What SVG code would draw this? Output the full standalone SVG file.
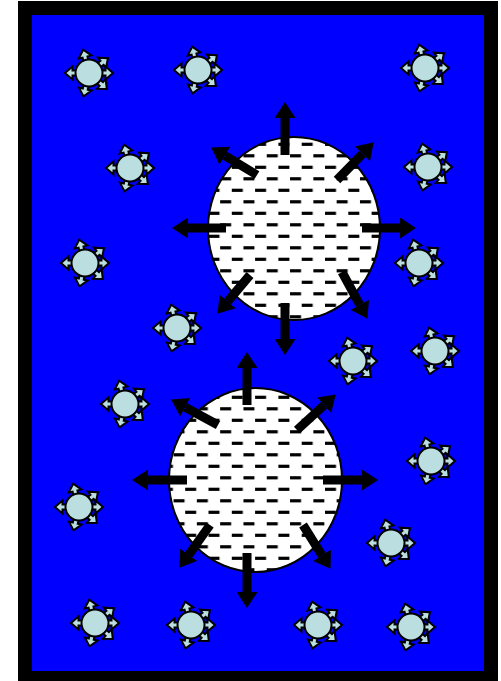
<svg xmlns="http://www.w3.org/2000/svg" xmlns:xlink="http://www.w3.org/1999/xlink" width="501" height="681" viewBox="0 0 501 681">
<style>
.bigarrow{stroke:#000;stroke-width:9;fill:none;marker-end:url(#head)}
.sa{fill:#bbdfe1;stroke:#000;stroke-width:2;stroke-linejoin:miter}
.suncore{fill:#bbdfe1;stroke:#000;stroke-width:2}
.drop{fill:url(#dashes);stroke:#000;stroke-width:2}
</style>
<defs>
<marker id="head" viewBox="0 0 16 21" refX="0" refY="10.5" markerWidth="16" markerHeight="21" markerUnits="userSpaceOnUse" orient="auto">
<path d="M0,0 L16,10.5 L0,21 z" fill="#000"/>
</marker>
<pattern id="dashes" patternUnits="userSpaceOnUse" x="-1.2" y="0" width="23.3" height="23">
<rect x="0" y="4.7" width="11" height="3.2" fill="#000"/>
<rect x="11.65" y="16.2" width="11" height="3.2" fill="#000"/>
</pattern>
<polygon id="sarrow" class="sa" points="6,-2.5 16.5,-2.5 16.5,-6.5 24,0 16.5,6.5 16.5,2.5 6,2.5"/>
<g id="sun">
<use xlink:href="#sarrow" href="#sarrow" transform="rotate(180)"/>
<use xlink:href="#sarrow" href="#sarrow" transform="rotate(-104)"/>
<use xlink:href="#sarrow" href="#sarrow" transform="rotate(-38)"/>
<use xlink:href="#sarrow" href="#sarrow"/>
<use xlink:href="#sarrow" href="#sarrow" transform="rotate(42)"/>
<use xlink:href="#sarrow" href="#sarrow" transform="rotate(103)"/>
<circle class="suncore" cx="0" cy="0" r="13.5"/>
</g>
</defs>
<rect id="frame" x="25" y="8" width="466" height="670" fill="#0000ff" stroke="#000" stroke-width="14"/>
<g id="drop1">
<ellipse cx="294" cy="228.5" rx="86" ry="91.5" fill="#fff"/>
<ellipse class="drop" cx="294" cy="228.5" rx="86" ry="91.5"/>
</g>
<g id="drop2">
<ellipse cx="255.5" cy="480" rx="86.5" ry="92" fill="#fff"/>
<ellipse class="drop" cx="255.5" cy="480" rx="86.5" ry="92"/>
</g>
<g id="suns">
<use id="sun1" xlink:href="#sun" href="#sun" transform="translate(89,73)"/>
<use id="sun2" xlink:href="#sun" href="#sun" transform="translate(198,70)"/>
<use id="sun3" xlink:href="#sun" href="#sun" transform="translate(425,68)"/>
<use id="sun4" xlink:href="#sun" href="#sun" transform="translate(130,168)"/>
<use id="sun5" xlink:href="#sun" href="#sun" transform="translate(428,167)"/>
<use id="sun6" xlink:href="#sun" href="#sun" transform="translate(85,263)"/>
<use id="sun7" xlink:href="#sun" href="#sun" transform="translate(419,263)"/>
<use id="sun8" xlink:href="#sun" href="#sun" transform="translate(177,328)"/>
<use id="sun9" xlink:href="#sun" href="#sun" transform="translate(353,361)"/>
<use id="sun10" xlink:href="#sun" href="#sun" transform="translate(435,351)"/>
<use id="sun11" xlink:href="#sun" href="#sun" transform="translate(125,404)"/>
<use id="sun12" xlink:href="#sun" href="#sun" transform="translate(431,461)"/>
<use id="sun13" xlink:href="#sun" href="#sun" transform="translate(79,507)"/>
<use id="sun14" xlink:href="#sun" href="#sun" transform="translate(391,543)"/>
<use id="sun15" xlink:href="#sun" href="#sun" transform="translate(95,623)"/>
<use id="sun16" xlink:href="#sun" href="#sun" transform="translate(191,625)"/>
<use id="sun17" xlink:href="#sun" href="#sun" transform="translate(318,625)"/>
<use id="sun18" xlink:href="#sun" href="#sun" transform="translate(411,627)"/>
</g>
<g id="connectors">
<line class="bigarrow" x1="285" y1="155" x2="285" y2="118"/>
<line class="bigarrow" x1="285" y1="303" x2="285" y2="339"/>
<line class="bigarrow" x1="226" y1="228" x2="188" y2="228"/>
<line class="bigarrow" x1="362" y1="228" x2="400" y2="228"/>
<line class="bigarrow" x1="257" y1="175" x2="224.9" y2="155.7"/>
<line class="bigarrow" x1="337" y1="180" x2="362.5" y2="153.8"/>
<line class="bigarrow" x1="250" y1="275" x2="227.7" y2="301.5"/>
<line class="bigarrow" x1="342" y1="272" x2="359.8" y2="304.8"/>
<line class="bigarrow" x1="247" y1="405" x2="247" y2="368"/>
<line class="bigarrow" x1="187" y1="480" x2="148" y2="480"/>
<line class="bigarrow" x1="323" y1="480" x2="362" y2="480"/>
<line class="bigarrow" x1="247" y1="553" x2="247" y2="592"/>
<line class="bigarrow" x1="218" y1="425" x2="185.2" y2="407.2"/>
<line class="bigarrow" x1="297" y1="430" x2="324" y2="405.2"/>
<line class="bigarrow" x1="210" y1="525" x2="188.7" y2="554.8"/>
<line class="bigarrow" x1="303" y1="525" x2="322" y2="555.3"/>
</g>
</svg>
